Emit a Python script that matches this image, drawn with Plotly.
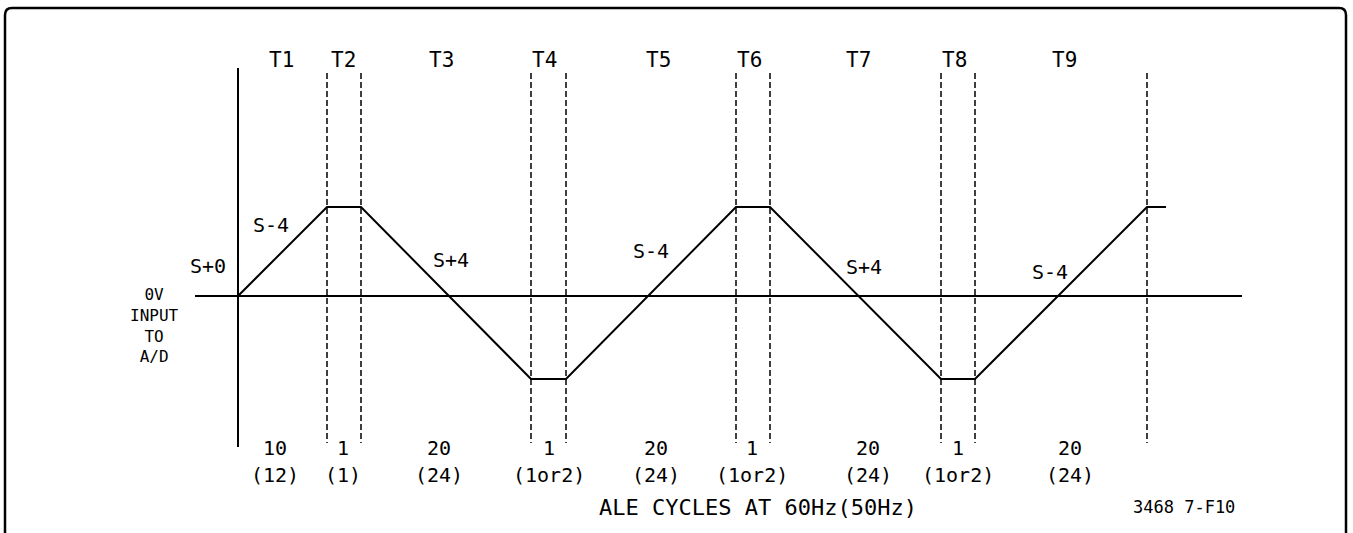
import numpy as np
import plotly.graph_objects as go

# ---------------- data ----------------
phase_names = ["T1", "T2", "T3", "T4", "T5", "T6", "T7", "T8", "T9"]
cycles_60hz = ["10", "1", "20", "1", "20", "1", "20", "1", "20"]
cycles_50hz = ["(12)", "(1)", "(24)", "(1or2)", "(24)", "(1or2)", "(24)", "(1or2)", "(24)"]
# schematic width of each phase (drawing units)
phase_width = [89, 34, 170, 35, 170, 34, 171, 34, 172]
# A/D input level at the end of each phase (drawing units, 0 = 0V)
phase_end_level = [89, 89, -83, -83, 89, 89, -83, -83, 89]
tail_width = 19
slope_labels = ["S+0", "S-4", "S+4", "S-4", "S+4", "S-4"]
left_label_lines = ["0V", "INPUT", "TO", "A/D"]
axis_title = "ALE CYCLES AT 60Hz(50Hz)"
figure_id = "3468 7-F10"

# ---------------- derived geometry ----------------
bounds = np.concatenate([[0], np.cumsum(phase_width)])
wave_x = list(bounds) + [bounds[-1] + tail_width]
wave_y = [0] + phase_end_level + [phase_end_level[-1]]
centers = (bounds[:-1] + bounds[1:]) / 2

# layout helpers (1 unit = 1 px)
X0, Y0 = 238, 296          # pixel position of origin
W, H = 1353, 533
def px(x):  # pixel x -> data x
    return x - X0
def py(y):  # pixel y -> data y
    return Y0 - y

FONT = "DejaVu Sans Mono"
fig = go.Figure()

# dashed phase boundaries
dx, dy = [], []
for b in bounds[1:]:
    dx += [b, b, None]
    dy += [py(73), py(443), None]
fig.add_trace(go.Scatter(x=dx, y=dy, mode="lines",
                         line=dict(color="black", width=1.5, dash="6px,3px"),
                         hoverinfo="skip", showlegend=False))

# vertical axis and 0V baseline
fig.add_trace(go.Scatter(x=[0, 0], y=[py(68), py(447)], mode="lines",
                         line=dict(color="black", width=2), showlegend=False))
fig.add_trace(go.Scatter(x=[px(195), px(1242)], y=[0, 0], mode="lines",
                         line=dict(color="black", width=2), showlegend=False))

# waveform
fig.add_trace(go.Scatter(x=wave_x, y=wave_y, mode="lines",
                         line=dict(color="black", width=2), showlegend=False))

ann = []
def label(x, y, text, size, align="center"):
    ann.append(dict(x=x, y=y, text=text, showarrow=False, xanchor="center",
                    yanchor="middle", align=align,
                    font=dict(family=FONT, size=size, color="black")))

nudge_top = [-1, -1, -5, -4, 7, -4, 3, -4, 3]
nudge_bot = [-8, -1, -7, 0, 5, -1, 12, 0, 9]
for i, name in enumerate(phase_names):
    label(centers[i] + nudge_top[i], py(60), name, 21)
    label(centers[i] + nudge_bot[i], py(448), cycles_60hz[i], 20)
    label(centers[i] + nudge_bot[i], py(475), cycles_50hz[i], 20)

slope_pos = [(208, 266), (271, 225), (451, 260), (651, 251), (864, 267), (1050, 272)]
for (sx, sy), t in zip(slope_pos, slope_labels):
    label(px(sx), py(sy), t, 20)

# stacked left label as one multi-line text
label(px(154), py(325), "<br>".join(left_label_lines), 16)

label(px(758), py(507), axis_title, 22)
label(px(1184), py(507), figure_id, 17)

# frame with rounded top corners, open at bottom
L, R, T, B = px(5), px(1346), py(8), py(560)
r = 7
frame = (f"M {L},{B} L {L},{T - r} Q {L},{T} {L + r},{T} "
         f"L {R - r},{T} Q {R},{T} {R},{T - r} L {R},{B}")

fig.update_layout(
    width=W, height=H, margin=dict(l=0, r=0, t=0, b=0),
    paper_bgcolor="white", plot_bgcolor="white",
    xaxis=dict(range=[px(0), px(W)], visible=False, fixedrange=True),
    yaxis=dict(range=[py(H), py(0)], visible=False, fixedrange=True),
    annotations=ann,
    shapes=[dict(type="path", path=frame, xref="x", yref="y",
                 line=dict(color="black", width=2.5))],
    showlegend=False,
)

fig.write_html("out.html", config={"displayModeBar": False},
               post_script="document.body.style.margin='0';")
